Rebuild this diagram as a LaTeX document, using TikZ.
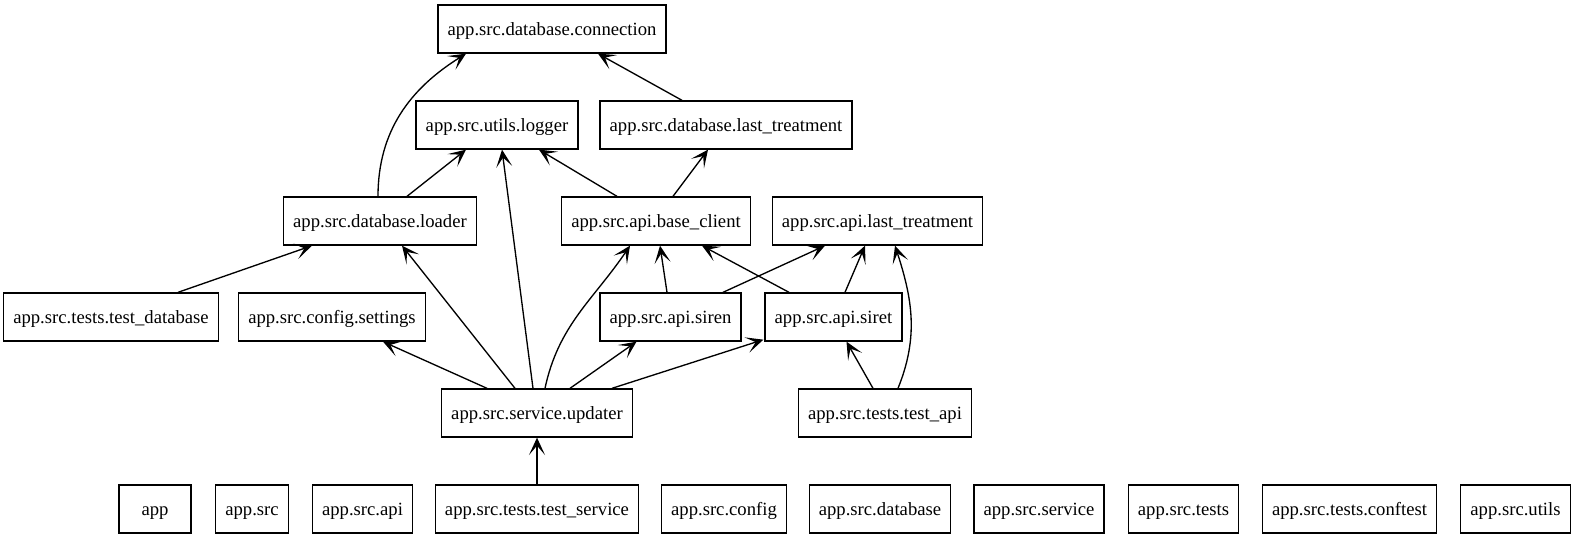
\documentclass[tikz,border=0pt]{standalone}
\usepackage{fontspec}
\setmainfont{Liberation Serif}
\usepackage{tikz}
\usetikzlibrary{calc, arrows.meta}

\tikzset{
  module/.style={draw, line width=1pt, rectangle, minimum height=36pt, minimum width=54pt,
    inner xsep=7.2pt, inner ysep=0pt, text height=9.6pt, text depth=0pt,
    font=\fontsize{14}{16}\selectfont},
  dep/.style={line width=1pt, -{Stealth[length=13pt, width=12pt, inset=7pt]}}
}

\begin{document}
\begin{tikzpicture}[x=0.75pt, y=0.75pt]
  \useasboundingbox (0,0) rectangle (1574,539);

  % top layers
  \node[module] (connection) at (552, 510) {app.src.database.connection};
  \node[module] (logger) at (497, 414) {app.src.utils.logger};
  \node[module] (dbtreat) at (726, 414) {app.src.database.last\textunderscore treatment};

  \node[module] (loader) at (380, 318) {app.src.database.loader};
  \node[module] (baseclient) at (656, 318) {app.src.api.base\textunderscore client};
  \node[module] (apitreat) at (877.5, 318) {app.src.api.last\textunderscore treatment};

  \node[module] (testdb) at (111, 222) {app.src.tests.test\textunderscore database};
  \node[module] (settings) at (332, 222) {app.src.config.settings};
  \node[module] (siren) at (670.5, 222) {app.src.api.siren};
  \node[module] (siret) at (833.5, 222) {app.src.api.siret};

  \node[module] (updater) at (537, 126) {app.src.service.updater};
  \node[module] (testapi) at (885, 126) {app.src.tests.test\textunderscore api};

  % packages row
  \node[module] (pkgapp) at (155, 30) {app};
  \node[module] (pkgsrc) at (252, 30) {app.src};
  \node[module] (pkgapi) at (362.5, 30) {app.src.api};
  \node[module] (testservice) at (537, 30) {app.src.tests.test\textunderscore service};
  \node[module] (pkgconfig) at (724, 30) {app.src.config};
  \node[module] (pkgdatabase) at (880, 30) {app.src.database};
  \node[module] (pkgservice) at (1039, 30) {app.src.service};
  \node[module] (pkgtests) at (1183.5, 30) {app.src.tests};
  \node[module] (conftest) at (1349.5, 30) {app.src.tests.conftest};
  \node[module] (pkgutils) at (1515.5, 30) {app.src.utils};

  % database imports
  \draw[dep] ($(loader.north)+(-2,0)$) to[out=90, in=-148] ($(connection.south)+(-86,0)$);
  \draw[dep] ($(loader.north)+(27,0)$) -- ($(logger.south)+(-31,0)$);
  \draw[dep] ($(dbtreat.north)+(-44,0)$) -- ($(connection.south)+(46,0)$);

  % api imports
  \draw[dep] ($(baseclient.north)+(-39,0)$) -- ($(logger.south)+(42,0)$);
  \draw[dep] ($(baseclient.north)+(17,0)$) -- ($(dbtreat.south)+(-18,0)$);
  \draw[dep] ($(siren.north)+(-3.5,0)$) -- ($(baseclient.south)+(4,0)$);
  \draw[dep] ($(siren.north)+(52.5,0)$) -- ($(apitreat.south)+(-52.5,0)$);
  \draw[dep] ($(siret.north)+(-44.5,0)$) -- ($(baseclient.south)+(46,0)$);
  \draw[dep] ($(siret.north)+(11.5,0)$) -- ($(apitreat.south)+(-12.5,0)$);

  % service imports
  \draw[dep] ($(updater.north)+(-50,0)$) -- ($(settings.south)+(51,0)$);
  \draw[dep] ($(updater.north)+(-22,0)$) -- ($(loader.south)+(22,0)$);
  \draw[dep] ($(updater.north)+(-4,0)$) -- ($(logger.south)+(5,0)$);
  \draw[dep] ($(updater.north)+(8,0)$) to[out=78, in=-124] ($(baseclient.south)+(-26,0)$);
  \draw[dep] ($(updater.north)+(33,0)$) -- ($(siren.south)+(-34,0)$);
  \draw[dep] ($(updater.north)+(75,0)$) -- ($(siret.south west)+(-1,2)$);

  % tests
  \draw[dep] ($(testdb.north)+(67,0)$) -- ($(loader.south)+(-68,0)$);
  \draw[dep] ($(testapi.north)+(-12,0)$) -- ($(siret.south)+(13,0)$);
  \draw[dep] ($(testapi.north)+(13,0)$) to[out=68, in=-72] ($(apitreat.south)+(17.5,0)$);
  \draw[dep] (testservice) -- (updater);
\end{tikzpicture}
\end{document}
